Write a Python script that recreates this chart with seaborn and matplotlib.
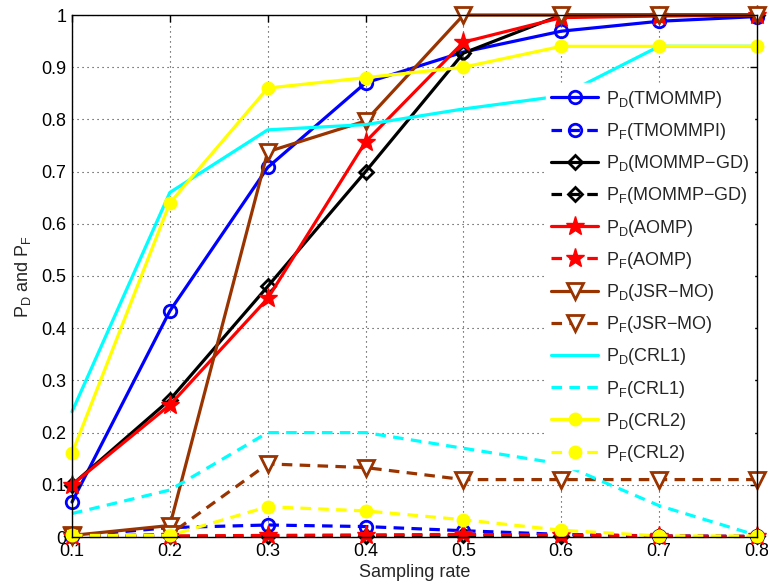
import matplotlib
matplotlib.use("Agg")
import matplotlib.pyplot as plt
import seaborn as sns
import pandas as pd

sns.set_style("white")
plt.rcParams['font.family'] = ['Liberation Sans', 'DejaVu Sans']
plt.rcParams['mathtext.default'] = 'regular'

sampling_rate = [0.1, 0.2, 0.3, 0.4, 0.5, 0.6, 0.7, 0.8]

pd_tmommp = [0.067, 0.433, 0.708, 0.870, 0.929, 0.969, 0.988, 0.997]
pf_tmommp = [0.002, 0.018, 0.023, 0.020, 0.012, 0.005, 0.002, 0.001]
pd_mommp = [0.100, 0.263, 0.480, 0.700, 0.927, 1.000, 1.000, 1.000]
pf_mommp = [0.001, 0.001, 0.002, 0.002, 0.003, 0.002, 0.001, 0.001]
pd_aomp = [0.100, 0.253, 0.457, 0.757, 0.948, 0.995, 0.998, 1.000]
pf_aomp = [0.001, 0.002, 0.003, 0.004, 0.005, 0.004, 0.002, 0.001]
pd_jsr = [0.003, 0.022, 0.738, 0.797, 1.000, 1.000, 1.000, 1.000]
pf_jsr = [0.001, 0.005, 0.140, 0.133, 0.110, 0.110, 0.110, 0.110]
pd_crl1 = [0.240, 0.660, 0.780, 0.790, 0.820, 0.845, 0.940, 0.940]
pf_crl1 = [0.045, 0.090, 0.200, 0.200, 0.170, 0.140, 0.060, 0.003]
pd_crl2 = [0.160, 0.640, 0.860, 0.880, 0.900, 0.940, 0.940, 0.940]
pf_crl2 = [0.003, 0.003, 0.058, 0.050, 0.033, 0.013, 0.002, 0.002]

labels = ['P$_D$(TMOMMP)', 'P$_F$(TMOMMPI)', 'P$_D$(MOMMP\u2212GD)', 'P$_F$(MOMMP\u2212GD)',
          'P$_D$(AOMP)', 'P$_F$(AOMP)', 'P$_D$(JSR\u2212MO)', 'P$_F$(JSR\u2212MO)',
          'P$_D$(CRL1)', 'P$_F$(CRL1)', 'P$_D$(CRL2)', 'P$_F$(CRL2)']
series = [pd_tmommp, pf_tmommp, pd_mommp, pf_mommp, pd_aomp, pf_aomp,
          pd_jsr, pf_jsr, pd_crl1, pf_crl1, pd_crl2, pf_crl2]

blue = '#0000ff'; black = '#000000'; red = '#ff0000'; brown = '#993300'
cyan = '#00ffff'; yellow = '#ffff00'
styles = [
    dict(color=blue, marker='o', mfc='none', ms=9, mew=2),
    dict(color=blue, marker='o', mfc='none', ms=9, mew=2, dashed=True),
    dict(color=black, marker='D', mfc='none', ms=7, mew=2),
    dict(color=black, marker='D', mfc='none', ms=7, mew=2, dashed=True),
    dict(color=red, marker='*', mfc=red, ms=14, mew=1),
    dict(color=red, marker='*', mfc=red, ms=14, mew=1, dashed=True),
    dict(color=brown, marker='v', mfc='white', ms=11, mew=2),
    dict(color=brown, marker='v', mfc='white', ms=11, mew=2, dashed=True),
    dict(color=cyan, marker=None),
    dict(color=cyan, marker=None, dashed=True),
    dict(color=yellow, marker='o', mfc=yellow, ms=9, mew=1),
    dict(color=yellow, marker='o', mfc=yellow, ms=9, mew=1, dashed=True),
]

fig = plt.figure(figsize=(7.68, 5.87), dpi=100)
ax = fig.add_axes([72/768, 50/587, 685/768, 522/587])

for lab, vals, st in zip(labels, series, styles):
    df = pd.DataFrame({'rate': sampling_rate, 'val': vals})
    kw = dict(color=st['color'], lw=2.3, label=lab)
    if st['marker'] is not None:
        kw.update(marker=st['marker'], markersize=st['ms'], markerfacecolor=st['mfc'],
                  markeredgecolor=st['color'], markeredgewidth=st['mew'])
    sns.lineplot(data=df, x='rate', y='val', ax=ax, legend=False, **kw)
    ln = ax.lines[-1]
    if st.get('dashed'):
        ln.set_dashes((3.3, 2.3))
    ln.set_clip_on(False)

ax.set_xlim(0.1, 0.8)
ax.set_ylim(0, 1)
ax.set_xticks(sampling_rate)
ax.set_xticklabels(['0.1', '0.2', '0.3', '0.4', '0.5', '0.6', '0.7', '0.8'])
yt = [0, 0.1, 0.2, 0.3, 0.4, 0.5, 0.6, 0.7, 0.8, 0.9, 1]
ax.set_yticks(yt)
ax.set_yticklabels(['0', '0.1', '0.2', '0.3', '0.4', '0.5', '0.6', '0.7', '0.8', '0.9', '1'])
ax.tick_params(direction='in', top=True, right=True, length=5, width=1, labelsize=13, pad=4, colors='black')
ax.grid(True, linestyle=(0, (1, 3.5)), color='#333333', lw=0.8)
ax.set_axisbelow(True)
for s in ax.spines.values():
    s.set_color('black'); s.set_linewidth(1)
ax.set_xlabel('Sampling rate', fontsize=13, labelpad=3)
ax.set_ylabel('P$_D$ and P$_F$', fontsize=13, labelpad=6)

leg = ax.legend(loc='upper left', bbox_to_anchor=(0.692, 0.869), fontsize=13,
                frameon=True, fancybox=False, framealpha=1, edgecolor='white',
                handlelength=2.6, handletextpad=0.4, labelspacing=0.62,
                borderpad=0.3, borderaxespad=0)
leg.set_zorder(10)

fig.savefig('out.png', dpi=100)
